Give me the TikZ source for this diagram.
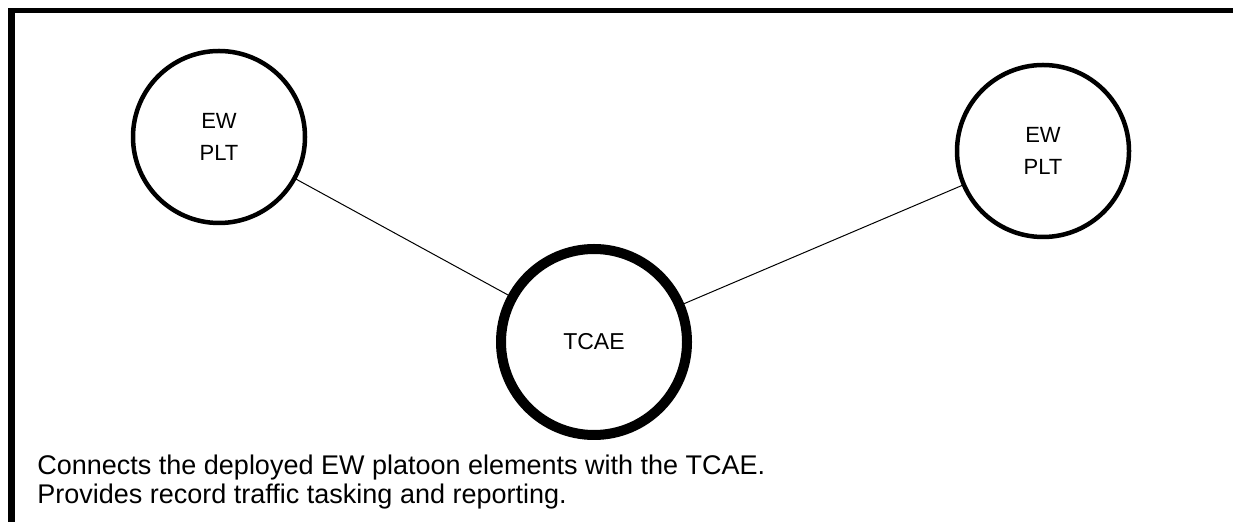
\documentclass[tikz,border=0pt]{standalone}
\usepackage{fontspec}
\setmainfont{Liberation Sans}
\begin{document}
\begin{tikzpicture}[x=0.5pt,y=-0.5pt,line cap=round,line join=round,
 site/.style={circle,draw,line width=2.25pt,minimum size=86pt,inner sep=0pt,
  align=center,font=\fontsize{11}{16}\selectfont},
 hub/.style={circle,draw,line width=5pt,minimum size=93pt,inner sep=0pt,
  font=\fontsize{11.5}{14}\selectfont},
 link/.style={line width=0.5pt},
 note/.style={anchor=base west,inner sep=0pt,font=\fontsize{13.5}{14.5}\selectfont}]
 \useasboundingbox (0,0) rectangle (1240,522);
 % frame, open at right and bottom
 \draw[line width=3.5pt,line cap=butt] (11,522) -- (11,8);
 \draw[line width=2.5pt,line cap=butt] (8,10.5) -- (1233,10.5);
 \node[site] (pltw) at (219,137) {EW\\PLT};
 \node[site] (plte) at (1043,151) {EW\\PLT};
 \node[hub] (tcae) at (594,342) {TCAE};
 \draw[link] (pltw) -- (tcae);
 \draw[link] (tcae) -- (plte);
 \node[note] (line1) at (37,475) {Connects the deployed EW platoon elements with the TCAE.};
 \node[note] (line2) at (37,504) {Provides record traffic tasking and reporting.};
\end{tikzpicture}
\end{document}
